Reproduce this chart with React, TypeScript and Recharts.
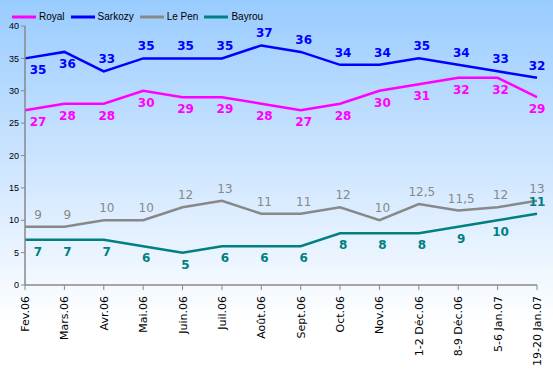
import { LineChart, Line, XAxis, YAxis, Legend, LabelList } from 'recharts';

const periods = [
  'Fev.06', 'Mars.06', 'Avr.06', 'Mai.06', 'Juin.06', 'Juil.06', 'Août.06',
  'Sept.06', 'Oct.06', 'Nov.06', '1-2 Déc.06', '8-9 Déc.06', '5-6 Jan.07', '19-20 Jan.07',
];
const royal = [27, 28, 28, 30, 29, 29, 28, 27, 28, 30, 31, 32, 32, 29];
const sarkozy = [35, 36, 33, 35, 35, 35, 37, 36, 34, 34, 35, 34, 33, 32];
const lePen = [9, 9, 10, 10, 12, 13, 11, 11, 12, 10, 12.5, 11.5, 12, 13];
const bayrou = [7, 7, 7, 6, 5, 6, 6, 6, 8, 8, 8, 9, 10, 11];
const yTicks = [0, 5, 10, 15, 20, 25, 30, 35, 40];

const data = periods.map((p, i) => ({
  period: p,
  Royal: royal[i],
  Sarkozy: sarkozy[i],
  'Le Pen': lePen[i],
  Bayrou: bayrou[i],
}));

const SERIES = [
  { key: 'Royal', color: '#ff00ff', below: (i: number) => true, bold: true },
  { key: 'Sarkozy', color: '#0000ff', below: (i: number) => i < 2, bold: true },
  { key: 'Le Pen', color: '#888888', below: (i: number) => false, bold: false },
  { key: 'Bayrou', color: '#008080', below: (i: number) => i < periods.length - 1, bold: true },
];

const fmt = (v: number) => String(v).replace('.', ',');

function makeLabel(color: string, below: (i: number) => boolean, bold: boolean) {
  return (props: any) => {
    const { x, y, value, index } = props;
    const dx = index === 0 ? 13 : index === periods.length - 1 ? 0 : 3;
    const dy = below(index) ? 12 : -12;
    return (
      <text
        x={x + dx}
        y={y + dy}
        textAnchor="middle"
        dominantBaseline="central"
        fill={color}
        fontSize={12}
        fontWeight={bold ? 'bold' : 'normal'}
        fontFamily="DejaVu Sans, sans-serif"
      >
        {fmt(value)}
      </text>
    );
  };
}

function XTick(props: any) {
  const { x, y, payload } = props;
  return (
    <text
      transform={`translate(${x + 4},${y + 4}) rotate(-90)`}
      textAnchor="end"
      fill="#000"
      fontSize={11}
      fontFamily="DejaVu Sans, sans-serif"
    >
      {payload.value}
    </text>
  );
}

function LegendContent() {
  return (
    <div style={{ display: 'flex', alignItems: 'center', fontFamily: 'Liberation Sans, Arial, sans-serif', fontSize: 10 }}>
      {SERIES.map((s) => (
        <div key={s.key} style={{ display: 'flex', alignItems: 'center', marginRight: 5 }}>
          <svg width={26} height={4} style={{ marginRight: 2 }}>
            <line x1={1} y1={2} x2={25} y2={2} stroke={s.color} strokeWidth={3} />
          </svg>
          <span style={{ color: '#000' }}>{s.key}</span>
        </div>
      ))}
    </div>
  );
}

export default function App() {
  return (
    <div style={{ position: 'fixed', left: 0, top: 0, width: 553, height: 378 }}>
      <svg width={553} height={378} style={{ position: 'absolute', left: 0, top: 0 }}>
        <defs>
          <linearGradient id="bg" x1="0" y1="0" x2="0" y2="1">
            <stop offset="0%" stopColor="#99ccff" />
            <stop offset="45%" stopColor="#cfe6ff" />
            <stop offset="85%" stopColor="#ffffff" />
            <stop offset="100%" stopColor="#ffffff" />
          </linearGradient>
        </defs>
        <rect x={0} y={0} width={553} height={378} fill="url(#bg)" />
      </svg>
      <LineChart
        width={553}
        height={378}
        data={data}
        margin={{ top: 15, right: 16, left: 0, bottom: 8 }}
        style={{ position: 'absolute', left: 0, top: 0 }}
      >
        <XAxis
          dataKey="period"
          interval={0}
          height={85}
          tick={<XTick />}
          tickLine={{ stroke: '#888' }}
          tickSize={5}
          axisLine={{ stroke: '#888', strokeWidth: 1.5 }}
        />
        <YAxis
          domain={[0, 40]}
          ticks={yTicks}
          width={25}
          tick={{ fontSize: 9, fill: '#000', fontFamily: 'Liberation Sans, Arial, sans-serif' }}
          tickLine={{ stroke: '#888' }}
          tickSize={4}
          axisLine={{ stroke: '#888', strokeWidth: 1.5 }}
        />
        <Legend
          verticalAlign="top"
          align="left"
          content={<LegendContent />}
          wrapperStyle={{ top: 11, left: 11, width: 'auto' }}
        />
        {SERIES.map((s) => (
          <Line
            key={s.key}
            dataKey={s.key}
            type="linear"
            stroke={s.color}
            strokeWidth={2.5}
            dot={false}
            isAnimationActive={false}
          >
            <LabelList dataKey={s.key} content={makeLabel(s.color, s.below, s.bold)} />
          </Line>
        ))}
      </LineChart>
    </div>
  );
}
